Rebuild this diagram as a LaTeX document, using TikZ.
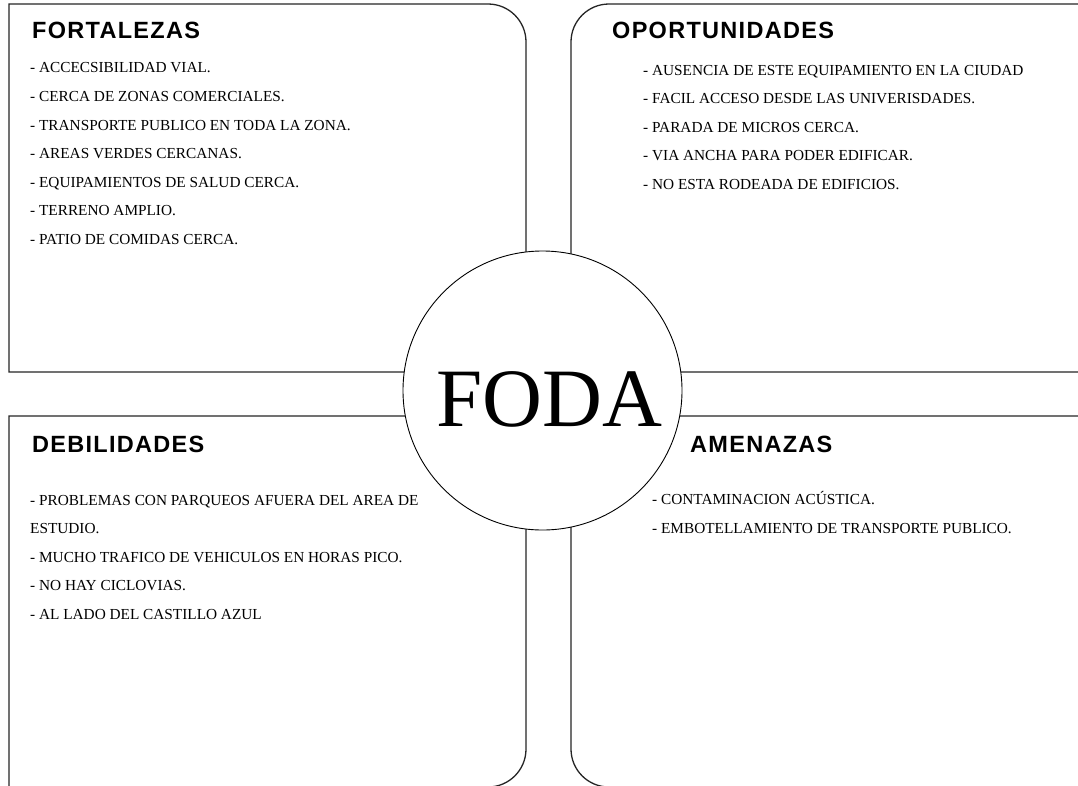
\documentclass[tikz,border=0pt]{standalone}
\usepackage{fontspec}
\setmainfont{Liberation Serif}
\newfontfamily\headfont[LetterSpace=5.5]{Liberation Sans}

\begin{document}
\begin{tikzpicture}[
  x=1pt, y=-1pt,
  frame/.style={draw=black!85, line width=1.3pt, fill=white},
  title/.style={anchor=base west, inner sep=0pt,
                font=\headfont\bfseries\fontsize{23.5}{28}\selectfont},
  items/.style={anchor=base west, inner sep=0pt, align=left,
                font=\fontsize{15.3}{28.6}\selectfont},
  hub/.style={circle, draw=black, line width=0.9pt, fill=white,
              minimum size=279pt, inner sep=0pt},
  hubtext/.style={anchor=base, inner sep=0pt, font=\fontsize{83}{90}\selectfont},
]

% ---- page ----
\fill[white] (0,0) rectangle (1078,785);
\useasboundingbox (0,0) rectangle (1078,785);

% ---- four quadrants ----
\draw[frame] (9,372) -- (9,4) [rounded corners=38pt] -- (526,4) -- (526,372)
             [sharp corners] -- cycle;
\draw[frame] (1090,372) -- (571,372) [rounded corners=38pt] -- (571,4)
             [sharp corners] -- (1090,4) -- cycle;
\draw[frame] (9,416) -- (526,416) [rounded corners=38pt] -- (526,787)
             [sharp corners] -- (9,787) -- cycle;
\draw[frame] (1090,416) -- (571,416) [rounded corners=38pt] -- (571,787)
             [sharp corners] -- (1090,787) -- cycle;

% ---- centre ----
\node[hub] (foda) at (542.5,390.5) {};
\node[hubtext] (fodalbl) at (549,426) {FODA};

% ---- headings ----
\node[title] (fort) at (32,38.5) {FORTALEZAS};
\node[title] (opor) at (612,38.5) {OPORTUNIDADES};
\node[title] (debi) at (32,452)  {DEBILIDADES};
\node[title] (amen) at (690,452) {AMENAZAS};

% ---- lists (placed by their last line) ----
\node[items] (fortlist) at (30,244.5)
  {- ACCECSIBILIDAD VIAL.\\
   - CERCA DE ZONAS COMERCIALES.\\
   - TRANSPORTE PUBLICO EN TODA LA ZONA.\\
   - AREAS VERDES CERCANAS.\\
   - EQUIPAMIENTOS DE SALUD CERCA.\\
   - TERRENO AMPLIO.\\
   - PATIO DE COMIDAS CERCA.};
\node[items] (oporlist) at (643,189.5)
  {- AUSENCIA DE ESTE EQUIPAMIENTO EN LA CIUDAD\\
   - FACIL ACCESO DESDE LAS UNIVERISDADES.\\
   - PARADA DE MICROS CERCA.\\
   - VIA ANCHA PARA PODER EDIFICAR.\\
   - NO ESTA RODEADA DE EDIFICIOS.};
\node[items] (debilist) at (30,619.5)
  {- PROBLEMAS CON PARQUEOS AFUERA DEL AREA DE\\
   ESTUDIO.\\
   - MUCHO TRAFICO DE VEHICULOS EN HORAS PICO.\\
   - NO HAY CICLOVIAS.\\
   - AL LADO DEL CASTILLO AZUL};
\node[items] (amenlist) at (652,533)
  {- CONTAMINACION ACÚSTICA.\\
   - EMBOTELLAMIENTO DE TRANSPORTE PUBLICO.};

\end{tikzpicture}
\end{document}
